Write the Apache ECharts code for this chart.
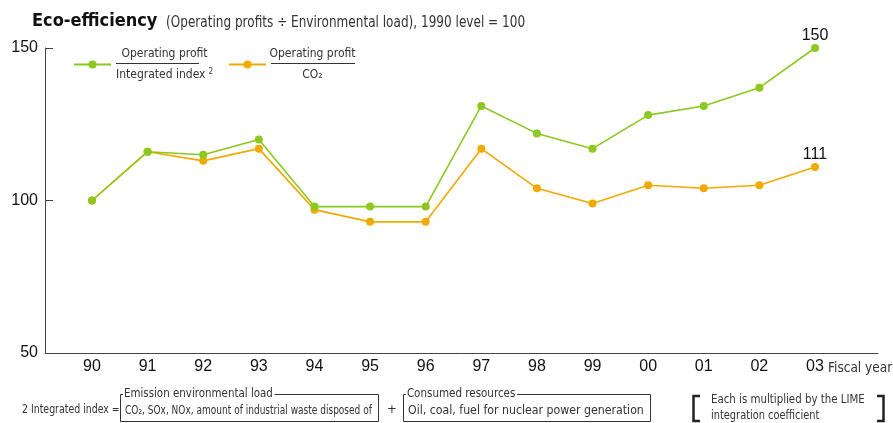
<!DOCTYPE html>
<html>
<head>
<meta charset="utf-8">
<script src="https://cdn.jsdelivr.net/npm/echarts@6/dist/echarts.min.js"></script>
<style>
  html, body { margin: 0; padding: 0; background: #fff; }
  #chart { width: 893px; height: 423px; }
</style>
</head>
<body>
<div id="chart"></div>
<script>
// Fiscal years and the two eco-efficiency indices (1990 = 100)
const years = ['90', '91', '92', '93', '94', '95', '96', '97', '98', '99', '00', '01', '02', '03'];
const perIntegratedIndex = [100, 116, 115, 120, 98, 98, 98, 131, 122, 117, 128, 131, 137, 150];
const perCO2 = [100, 116, 113, 117, 97, 93, 93, 117, 104, 99, 105, 104, 105, 111];
const yTicks = [50, 100, 150];

const NARROW = '"Liberation Sans Narrow", "DejaVu Sans Condensed", "Liberation Sans", sans-serif';
const SANS = '"Liberation Sans", Arial, sans-serif';
const GREEN = '#8cc81e';
const ORANGE = '#f2a900';
const INK = '#333';

// x positions are category indices; the value label sits only on the final year
function toPoints(values) {
  return values.map((v, i) => {
    const item = { value: [i, v] };
    if (i === values.length - 1) item.label = { show: true };
    return item;
  });
}

const lineSeries = (name, color, values, z) => ({
  name,
  type: 'line',
  data: toPoints(values),
  z,
  symbol: 'circle',
  symbolSize: 8,
  lineStyle: { color, width: 1.6 },
  itemStyle: { color },
  label: {
    show: false,
    position: 'top',
    distance: 0,
    color: '#111',
    fontFamily: SANS,
    fontSize: 16,
    formatter: p => p.value[1]
  },
  emphasis: { disabled: true },
  animation: false
});

const legendText = {
  fontFamily: NARROW,
  fontSize: 12,
  color: INK,
  rich: {
    a: { fontFamily: NARROW, fontSize: 12, color: INK, lineHeight: 21, width: 83, align: 'center' },
    b: { fontFamily: NARROW, fontSize: 12, color: INK, lineHeight: 21 },
    s: { fontFamily: NARROW, fontSize: 8, color: INK, lineHeight: 21, padding: [0, 0, 6, 3] },
    c: { fontFamily: NARROW, fontSize: 12, color: INK, lineHeight: 21, width: 83, align: 'center' }
  }
};

// plain text placed with a horizontal squeeze to imitate a condensed face
const note = (text, x, y, size, sx) => ({
  type: 'text', x, y, scaleX: sx, z: 10,
  style: { text, font: size + 'px ' + NARROW, fill: INK, textVerticalAlign: 'middle' }
});
const boxLabel = (text, x, y, size, sx) => ({
  type: 'text', x, y, scaleX: sx, z: 10,
  style: { text, font: size + 'px ' + NARROW, fill: INK, textVerticalAlign: 'middle', backgroundColor: '#fff', padding: [0, 2, 0, 1] }
});

const chart = echarts.init(document.getElementById('chart'), null, { renderer: 'canvas' });

chart.setOption({
  animation: false,
  backgroundColor: '#fff',
  title: {
    text: 'Eco-efficiency',
    left: 32,
    top: 12,
    padding: 0,
    textStyle: { fontFamily: NARROW, fontSize: 18, fontWeight: 'bold', color: '#111' }
  },
  grid: { left: 45, right: 15, top: 48, bottom: 70, outerBoundsMode: 'none', containLabel: false },
  xAxis: {
    type: 'value',
    min: -0.845,
    max: 14.133,
    name: 'Fiscal year',
    nameLocation: 'end',
    nameGap: -50,
    nameMoveOverlap: false,
    nameTextStyle: {
      fontFamily: NARROW, fontSize: 13.5, color: INK,
      align: 'left', verticalAlign: 'top', padding: [8, 0, 0, 0]
    },
    axisLine: { show: true, onZero: false, lineStyle: { color: '#444', width: 1 } },
    axisTick: { show: false },
    splitLine: { show: false },
    axisLabel: {
      customValues: years.map((_, i) => i),
      formatter: v => years[Math.round(v)],
      fontFamily: SANS,
      fontSize: 16,
      color: '#111',
      margin: 6
    }
  },
  yAxis: {
    type: 'value',
    min: yTicks[0],
    max: yTicks[yTicks.length - 1],
    interval: 50,
    axisLine: { show: true, onZero: false, lineStyle: { color: '#444', width: 1 } },
    axisTick: { show: true, inside: true, length: 8, lineStyle: { color: '#444' } },
    splitLine: { show: false },
    axisLabel: { fontFamily: SANS, fontSize: 16, color: '#111', margin: 7 }
  },
  legend: [
    {
      data: ['perIntegrated'],
      left: 73, top: 43, padding: [5, 0],
      itemWidth: 37, itemHeight: 10,
      selectedMode: false,
      textStyle: legendText,
      formatter: () => '{a|Operating profit}\n{b|Integrated index}{s|2}'
    },
    {
      data: ['perCO2'],
      left: 228, top: 43, padding: [5, 0],
      itemWidth: 37, itemHeight: 10,
      selectedMode: false,
      textStyle: legendText,
      formatter: () => '{a|Operating profit}\n{c|CO₂}'
    }
  ],
  series: [
    lineSeries('perCO2', ORANGE, perCO2, 2),
    lineSeries('perIntegrated', GREEN, perIntegratedIndex, 3)
  ],
  graphic: [
    // subtitle beside the bold heading
    note('(Operating profits ÷ Environmental load), 1990 level = 100', 166, 23, 15, 0.895),
    // fraction bars in the legend
    { type: 'line', shape: { x1: 116, y1: 63.5, x2: 199, y2: 63.5 }, style: { stroke: INK, lineWidth: 1 } },
    { type: 'line', shape: { x1: 271, y1: 63.5, x2: 355, y2: 63.5 }, style: { stroke: INK, lineWidth: 1 } },

    // footnote: definition of the integrated index
    note('2 Integrated index =', 22, 410, 12, 0.87),
    { type: 'polyline', shape: { points: [[120.5, 394.5], [378.5, 394.5], [378.5, 421.5], [120.5, 421.5], [120.5, 394.5]] }, style: { stroke: INK, lineWidth: 1, fill: null } },
    boxLabel('Emission environmental load', 123, 394, 13, 0.88),
    note('CO₂, SOx, NOx, amount of industrial waste disposed of', 125, 411, 12, 0.835),
    note('+', 387, 410, 13, 1),
    { type: 'polyline', shape: { points: [[403.5, 394.5], [650.5, 394.5], [650.5, 421.5], [403.5, 421.5], [403.5, 394.5]] }, style: { stroke: INK, lineWidth: 1, fill: null } },
    boxLabel('Consumed resources', 406, 394, 13, 0.885),
    note('Oil, coal, fuel for nuclear power generation', 408, 411, 13, 0.94),

    // bracketed note on the LIME coefficient
    { type: 'polyline', shape: { points: [[700, 396], [693.5, 396], [693.5, 421], [700, 421]] }, style: { stroke: '#222', lineWidth: 2.5, fill: null } },
    { type: 'polyline', shape: { points: [[877, 396], [883.5, 396], [883.5, 421], [877, 421]] }, style: { stroke: '#222', lineWidth: 2.5, fill: null } },
    note('Each is multiplied by the LIME', 711, 400, 13, 0.875),
    note('integration coefficient', 711, 416, 13, 0.84)
  ]
});
</script>
</body>
</html>
